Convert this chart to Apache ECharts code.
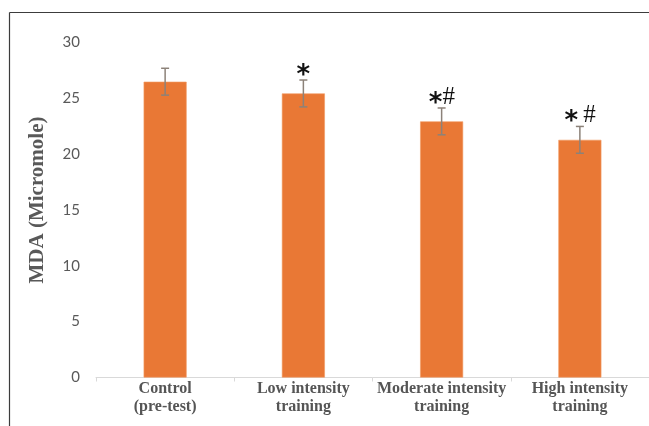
<!DOCTYPE html>
<html>
<head>
<meta charset="utf-8">
<script src="https://cdn.jsdelivr.net/npm/echarts@6/dist/echarts.min.js"></script>
<style>
html,body{margin:0;padding:0;background:#fff;}
#chart{width:649px;height:426px;}
</style>
</head>
<body>
<div id="chart"></div>
<script>
const categories = ['Control\n(pre-test)', 'Low intensity\ntraining', 'Moderate intensity\ntraining', 'High intensity\ntraining'];
const mdaValues = [26.45, 25.4, 22.9, 21.25];
const mdaSD = [1.2, 1.2, 1.2, 1.2];
const sigMarks = ['', '*', '*#', '* #'];
const yAxisTitle = 'MDA (Micromole)';

const chart = echarts.init(document.getElementById('chart'));

const charW = { '*': 14, '#': 12, ' ': 5 };

const option = {
  animation: false,
  backgroundColor: '#fff',
  grid: { left: 96, top: 42, bottom: 48.5, width: 556, containLabel: false },
  xAxis: {
    type: 'category',
    data: categories,
    axisLine: { show: true, lineStyle: { color: '#d9d9d9', width: 1 } },
    axisTick: { show: true, length: 4, lineStyle: { color: '#d9d9d9' } },
    axisLabel: {
      margin: 2,
      color: '#555555',
      fontFamily: 'Liberation Serif',
      fontWeight: 'bold',
      fontSize: 16,
      lineHeight: 18,
      interval: 0
    }
  },
  yAxis: {
    type: 'value',
    min: 0, max: 30, interval: 5,
    axisLine: { show: false },
    axisTick: { show: false },
    splitLine: { show: false },
    axisLabel: {
      margin: 16,
      color: '#595959',
      fontFamily: 'Lato',
      fontSize: 15
    }
  },
  series: [
    {
      type: 'bar',
      data: mdaValues,
      barWidth: 43,
      itemStyle: { color: '#E97835', borderColor: '#F29A63', borderWidth: 0.6 }
    },
    {
      type: 'custom',
      data: categories.map(function (c, i) { return [i, mdaValues[i], mdaSD[i]]; }),
      z: 5,
      renderItem: function (params, api) {
        const i = api.value(0), v = api.value(1), e = api.value(2);
        const top = api.coord([i, v + e]);
        const bot = api.coord([i, v - e]);
        const hw = 4;
        const ls = { stroke: '#8c8279', lineWidth: 1.5 };
        const children = [
          { type: 'line', shape: { x1: top[0], y1: top[1], x2: bot[0], y2: bot[1] }, style: ls },
          { type: 'line', shape: { x1: top[0] - hw, y1: top[1], x2: top[0] + hw, y2: top[1] }, style: ls },
          { type: 'line', shape: { x1: bot[0] - hw, y1: bot[1], x2: bot[0] + hw, y2: bot[1] }, style: ls }
        ];
        const mk = sigMarks[params.dataIndex];
        if (mk) {
          const chars = mk.split('');
          let total = 0;
          chars.forEach(function (ch) { total += charW[ch]; });
          let cx = top[0] - total / 2;
          chars.forEach(function (ch) {
            const w = charW[ch];
            if (ch === '*') {
              children.push({
                type: 'text', x: cx + w / 2, y: top[1] - 4,
                style: { text: '*', align: 'center', verticalAlign: 'middle', fontFamily: 'DejaVu Sans', fontWeight: 'bold', fontSize: 26, fill: '#111' }
              });
            } else if (ch === '#') {
              children.push({
                type: 'text', x: cx + w / 2, y: top[1] - 11,
                style: { text: '#', align: 'center', verticalAlign: 'middle', fontFamily: 'Liberation Serif', fontSize: 25, fill: '#111' }
              });
            }
            cx += w;
          });
        }
        return { type: 'group', children: children };
      }
    }
  ],
  graphic: [
    { type: 'line', shape: { x1: 9.5, y1: 12.5, x2: 649, y2: 12.5 }, style: { stroke: '#3c3c3c', lineWidth: 1.2 } },
    { type: 'line', shape: { x1: 9.5, y1: 12.5, x2: 9.5, y2: 426 }, style: { stroke: '#3c3c3c', lineWidth: 1.2 } },
    {
      type: 'text',
      x: 38, y: 200,
      rotation: Math.PI / 2,
      style: {
        text: yAxisTitle,
        align: 'center',
        verticalAlign: 'middle',
        fontFamily: 'Liberation Serif',
        fontWeight: 'bold',
        fontSize: 21,
        fill: '#595959'
      }
    }
  ]
};
chart.setOption(option);
</script>
</body>
</html>
